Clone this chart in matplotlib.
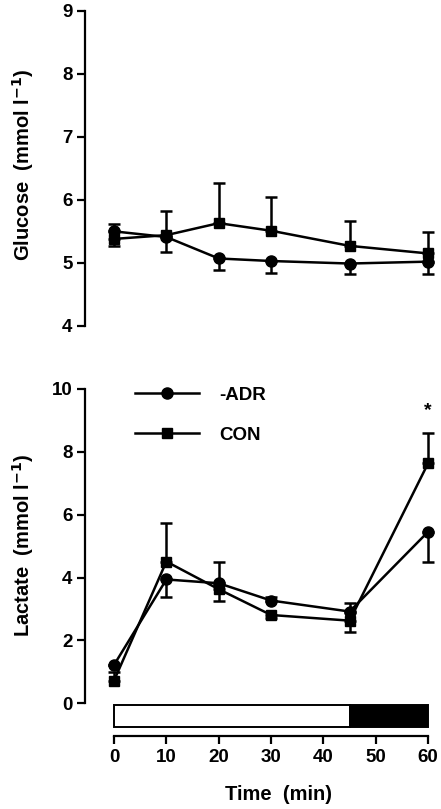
import numpy as np
import matplotlib.pyplot as plt
from matplotlib.lines import Line2D

plt.rcParams['font.family'] = ['Liberation Sans', 'DejaVu Sans']
plt.rcParams['font.weight'] = 'bold'
plt.rcParams['mathtext.default'] = 'bf'

time = [0, 10, 20, 30, 45, 60]

# glucose (mmol/l)
glu_adr = [5.50, 5.41, 5.07, 5.03, 4.99, 5.02]
glu_adr_lo = [0, 0.24, 0.19, 0.19, 0.17, 0.20]
glu_adr_hi = [0.12, 0, 0, 0, 0, 0]
glu_con = [5.38, 5.44, 5.63, 5.51, 5.27, 5.15]
glu_con_lo = [0.12, 0, 0, 0, 0, 0]
glu_con_hi = [0, 0.39, 0.63, 0.53, 0.39, 0.34]

# lactate (mmol/l)
lac_adr = [1.22, 3.94, 3.82, 3.27, 2.92, 5.46]
lac_adr_lo = [0, 0.55, 0, 0, 0, 0.95]
lac_adr_hi = [0, 0, 0.69, 0.12, 0.28, 0]
lac_con = [0.72, 4.51, 3.63, 2.81, 2.63, 7.64]
lac_con_lo = [0, 0, 0.37, 0.10, 0.37, 0]
lac_con_hi = [0.28, 1.24, 0, 0, 0, 0.97]

# exercise phases under the lactate panel: (start, length, colour)
phases = [(0, 45, 'white'), (45, 15, 'black')]

W, H = 441, 809
fig = plt.figure(figsize=(W / 100, H / 100), dpi=100)
ax1 = fig.add_axes([85 / W, 1 - 326 / H, 351 / W, 315.5 / H])
ax2 = fig.add_axes([85 / W, 73 / H, 351 / W, 347 / H])

lw = 1.8
def draw(ax, adr, adr_lo, adr_hi, con, con_lo, con_hi):
    ax.errorbar(time, adr, yerr=[adr_lo, adr_hi], fmt='none', ecolor='black',
                elinewidth=lw, capsize=4.5, capthick=lw, clip_on=False, zorder=2)
    ax.errorbar(time, con, yerr=[con_lo, con_hi], fmt='none', ecolor='black',
                elinewidth=lw, capsize=4.5, capthick=lw, clip_on=False, zorder=2)
    h1, = ax.plot(time, adr, '-o', color='black', lw=lw, ms=8, clip_on=False, zorder=3)
    h2, = ax.plot(time, con, '-s', color='black', lw=lw, ms=7.5, clip_on=False, zorder=4)
    return h1, h2

for ax in (ax1, ax2):
    ax.set_xlim(-5.54, 61.5)
    for s in ('top', 'right'):
        ax.spines[s].set_visible(False)
    ax.spines['left'].set_linewidth(1.6)
    ax.spines['bottom'].set_linewidth(1.6)
    ax.tick_params(direction='out', width=1.6, length=6, labelsize=13.5, pad=3)

# top panel
draw(ax1, glu_adr, glu_adr_lo, glu_adr_hi, glu_con, glu_con_lo, glu_con_hi)
ax1.set_ylim(4, 9)
ax1.set_yticks([4, 5, 6, 7, 8, 9])
ax1.spines['bottom'].set_visible(False)
ax1.set_xticks([])
ax1.set_ylabel(r'Glucose  (mmol l$^{-1}$)', fontsize=14.5, fontweight='bold')
ax1.yaxis.set_label_coords(-0.14, 0.51)

# bottom panel
h1, h2 = draw(ax2, lac_adr, lac_adr_lo, lac_adr_hi, lac_con, lac_con_lo, lac_con_hi)
for start, length, col in phases:
    ax2.barh(-0.4, length, left=start, height=0.7, color=col, edgecolor='black', linewidth=1.4)
ax2.set_ylim(-1.04, 10)
ax2.set_yticks([0, 2, 4, 6, 8, 10])
ax2.spines['left'].set_bounds(0, 10)
ax2.set_xticks([0, 10, 20, 30, 40, 50, 60])
ax2.spines['bottom'].set_bounds(0, 60)
ax2.set_ylabel(r'Lactate  (mmol l$^{-1}$)', fontsize=14.5, fontweight='bold')
ax2.yaxis.set_label_coords(-0.14, 0.55)
ax2.set_xlabel('Time  (min)', fontsize=14.5, fontweight='bold')
ax2.xaxis.set_label_coords(0.55, -0.14)
ax2.text(60, 9.05, '*', ha='center', va='bottom', fontsize=14, fontweight='bold')

ax2.legend([h1, h2], ['-ADR', 'CON'], loc='upper left', bbox_to_anchor=(0.142, 1.006),
           frameon=False, fontsize=13.5, handlelength=3.4, handletextpad=1.1,
           labelspacing=1.2, borderpad=0, borderaxespad=0)

fig.savefig('out.png', dpi=100)
